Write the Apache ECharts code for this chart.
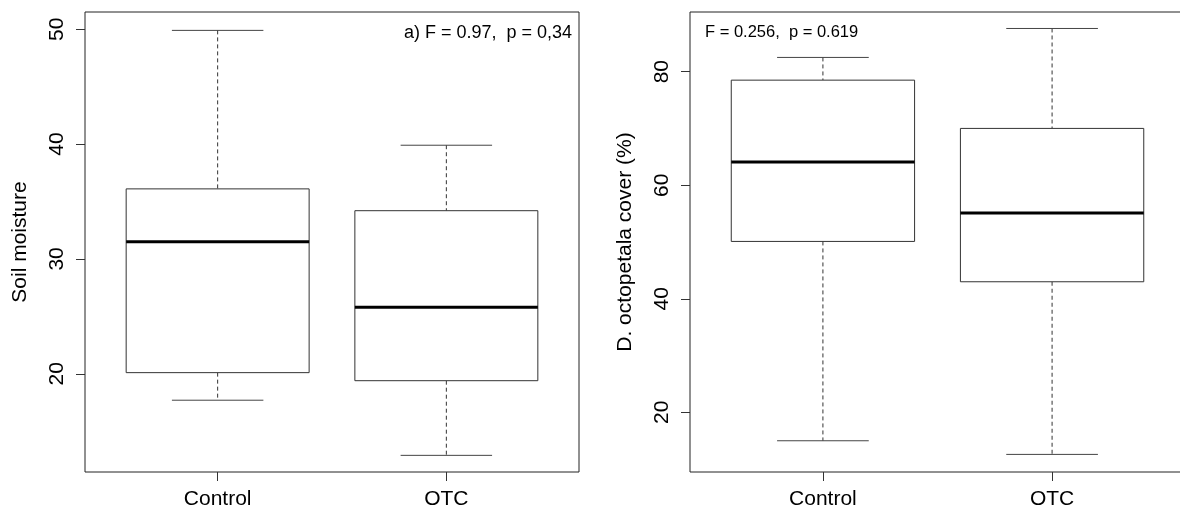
<!DOCTYPE html>
<html>
<head>
<meta charset="utf-8">
<script src="https://cdn.jsdelivr.net/npm/echarts@6/dist/echarts.min.js"></script>
<style>
  html, body { margin: 0; padding: 0; background: #fff; overflow: hidden; }
  /* a bit wider than the window: the right panel's frame runs off the edge, as in the original */
  #boxChart { width: 1192px; height: 528px; }
</style>
</head>
<body>
<div id="boxChart"></div>
<script>
// groups on the x axis
const groups = ['Control', 'OTC'];

// soil moisture: whisker low, Q1, median, Q3, whisker high
const moistLow = [17.7, 12.9];
const moistQ1 = [20.1, 19.4];
const moistMed = [31.5, 25.8];
const moistQ3 = [36.1, 34.2];
const moistHigh = [49.9, 39.9];
const moistTicks = [20, 30, 40, 50];

// D. octopetala cover (%)
const coverLow = [15.0, 12.6];
const coverQ1 = [50.1, 43.0];
const coverMed = [64.1, 55.1];
const coverQ3 = [78.5, 70.0];
const coverHigh = [82.5, 87.6];
const coverTicks = [20, 40, 60, 80];

const FONT = 'Liberation Sans, Arial, sans-serif';

function boxRows(lo, q1, med, q3, hi) {
  return groups.map((g, i) => [i + 1, lo[i], q1[i], med[i], q3[i], hi[i]]);
}

// draws one R-style box: dashed whiskers, staples, box, thick median
function renderBox(params, api) {
  const x = api.value(0);
  const p = v => api.coord([x, v]);
  const half = api.size([0.4, 0])[0];
  const capHalf = api.size([0.2, 0])[0];
  const lo = p(api.value(1)), q1 = p(api.value(2)), md = p(api.value(3));
  const q3 = p(api.value(4)), hi = p(api.value(5));
  const cx = lo[0];
  const dash = { stroke: '#333', lineWidth: 1, lineDash: [4, 3] };
  const solid = { stroke: '#444', lineWidth: 1 };
  return {
    type: 'group',
    children: [
      { type: 'line', shape: { x1: cx, y1: hi[1], x2: cx, y2: q3[1] }, style: dash },
      { type: 'line', shape: { x1: cx, y1: q1[1], x2: cx, y2: lo[1] }, style: dash },
      { type: 'line', shape: { x1: cx - capHalf, y1: hi[1], x2: cx + capHalf, y2: hi[1] }, style: solid },
      { type: 'line', shape: { x1: cx - capHalf, y1: lo[1], x2: cx + capHalf, y2: lo[1] }, style: solid },
      { type: 'rect', shape: { x: cx - half, y: q3[1], width: half * 2, height: q1[1] - q3[1] },
        style: { fill: '#fff', stroke: '#333', lineWidth: 1 } },
      { type: 'line', shape: { x1: cx - half, y1: md[1], x2: cx + half, y2: md[1] },
        style: { stroke: '#000', lineWidth: 3 } }
    ]
  };
}

function xAxisFor(idx) {
  return {
    type: 'value', gridIndex: idx, min: 0.42, max: 2.58,
    axisLine: { show: false },
    splitLine: { show: false },
    axisTick: { show: true, length: 9, customValues: [1, 2], lineStyle: { color: '#333' } },
    axisLabel: {
      customValues: [1, 2], margin: 17, color: '#000', fontSize: 21, fontFamily: FONT,
      formatter: v => groups[Math.round(v) - 1]
    }
  };
}

function yAxisFor(idx, min, max, ticks, name) {
  return {
    type: 'value', gridIndex: idx, min: min, max: max,
    name: name, nameLocation: 'middle', nameRotate: 90, nameGap: 54,
    nameTextStyle: { color: '#000', fontSize: 21, fontFamily: FONT },
    axisLine: { show: false },
    splitLine: { show: false },
    axisTick: { show: true, length: 9, customValues: ticks, lineStyle: { color: '#333' } },
    axisLabel: { customValues: ticks, rotate: 90, margin: 17, color: '#000', fontSize: 21, fontFamily: FONT }
  };
}

const chart = echarts.init(document.getElementById('boxChart'));
chart.setOption({
  animation: false,
  grid: [
    { left: 85, top: 12, width: 494, height: 460, show: true, borderColor: '#222', borderWidth: 1 },
    { left: 690, top: 12, width: 495, height: 460, show: true, borderColor: '#222', borderWidth: 1 }
  ],
  xAxis: [xAxisFor(0), xAxisFor(1)],
  yAxis: [
    yAxisFor(0, 11.45, 51.5, moistTicks, 'Soil moisture'),
    yAxisFor(1, 9.5, 90.5, coverTicks, 'D. octopetala cover (%)')
  ],
  series: [
    {
      type: 'custom', xAxisIndex: 0, yAxisIndex: 0,
      renderItem: renderBox,
      encode: { x: 0, y: [1, 2, 3, 4, 5] },
      data: boxRows(moistLow, moistQ1, moistMed, moistQ3, moistHigh)
    },
    {
      type: 'custom', xAxisIndex: 1, yAxisIndex: 1,
      renderItem: renderBox,
      encode: { x: 0, y: [1, 2, 3, 4, 5] },
      data: boxRows(coverLow, coverQ1, coverMed, coverQ3, coverHigh)
    }
  ],
  graphic: [
    { type: 'text', left: 404, top: 24,
      style: { text: 'a) F = 0.97,  p = 0,34', fill: '#000', font: '18px ' + FONT } },
    { type: 'text', left: 705, top: 24,
      style: { text: 'F = 0.256,  p = 0.619', fill: '#000', font: '16.5px ' + FONT } }
  ]
});
</script>
</body>
</html>
